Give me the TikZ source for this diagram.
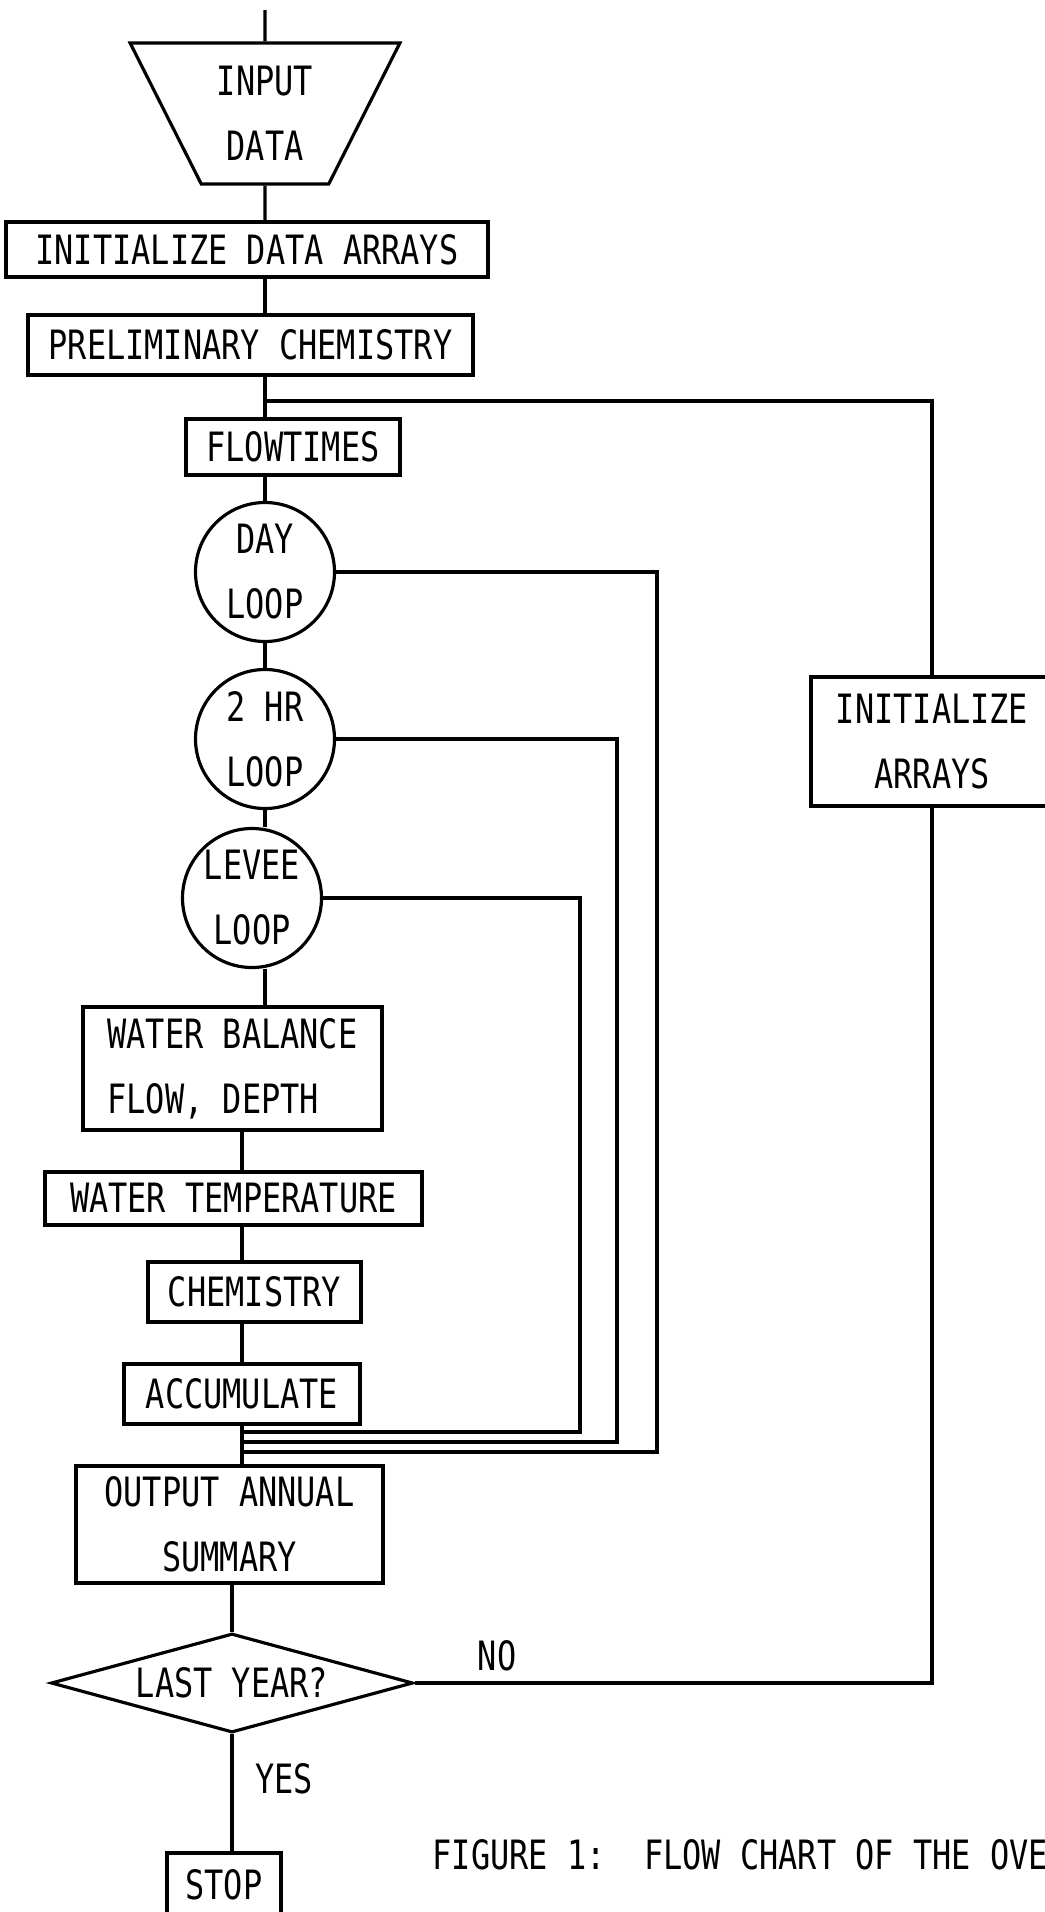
\documentclass[tikz,border=0pt]{standalone}
\usepackage{fontspec}
\usepackage{tikz}
\usetikzlibrary{shapes.geometric}
\newfontfamily\plotfont[FakeStretch=0.79]{DejaVu Sans Mono}

\begin{document}
\begin{tikzpicture}[
    x=0.1mm, y=-0.1mm,
    every node/.style={font=\plotfont\fontsize{11.5pt}{18.5pt}\selectfont, inner sep=0pt},
    procbox/.style={rectangle, draw, line width=0.9pt, align=center},
    loopnode/.style={circle, draw, line width=0.9pt, minimum size=13.9mm, align=center},
    ioshape/.style={
      trapezium, draw, line width=0.9pt, trapezium angle=60.4,
      shape border rotate=180, trapezium stretches=true, align=center
    },
    decision/.style={diamond, draw, line width=0.9pt, aspect=3.6, align=center},
    flow/.style={line width=0.9pt}
  ]
    \fill[white] (0,0) rectangle (1045,1912);
    \useasboundingbox (0,0) rectangle (1045,1912);

    \coordinate (intop) at (265,10);
    \node[ioshape, minimum width=27.1mm, minimum height=14.1mm] (input) at (265,113.5) {INPUT\\DATA};
    \node[procbox, minimum width=48.2mm, minimum height=5.5mm] (initdata) at (247,249.5) {INITIALIZE DATA ARRAYS};
    \node[procbox, minimum width=44.5mm, minimum height=6mm] (prelim) at (250.5,345) {PRELIMINARY CHEMISTRY};
    \coordinate (split) at (265,401);
    \node[procbox, minimum width=21.4mm, minimum height=5.6mm] (flowtimes) at (293,447) {FLOWTIMES};
    \node[loopnode] (day) at (265,572) {DAY\\LOOP};
    \node[loopnode] (twohr) at (265,739) {2 HR\\LOOP};
    \node[loopnode] (levee) at (252,898) {LEVEE\\LOOP};
    \node[procbox, align=left, minimum width=29.9mm, minimum height=12.3mm] (wbal) at (232.5,1068.5) {WATER BALANCE\\FLOW, DEPTH};
    \node[procbox, minimum width=37.7mm, minimum height=5.3mm] (wtemp) at (233.5,1198.5) {WATER TEMPERATURE};
    \node[procbox, minimum width=21.3mm, minimum height=6mm] (chem) at (254.5,1292) {CHEMISTRY};
    \node[procbox, minimum width=23.6mm, minimum height=6mm] (accum) at (242,1394) {ACCUMULATE};
    \node[procbox, minimum width=30.7mm, minimum height=11.7mm] (output) at (229.5,1524.5) {OUTPUT ANNUAL\\SUMMARY};
    \node[decision, minimum width=36.2mm, minimum height=9.9mm] (lastyear) at (232,1683) {LAST YEAR?};
    \node[procbox, minimum width=11.4mm, minimum height=6.4mm] (stop) at (224,1885) {STOP};
    \node[procbox, minimum width=24.2mm, minimum height=12.9mm] (initarr) at (932,741.5) {INITIALIZE\\ARRAYS};

    \node (nolbl) at (497,1656) {NO};
    \node (yeslbl) at (284,1779) {YES};
    \node[anchor=west] (caption) at (432,1855) {FIGURE 1:\ \ FLOW CHART OF THE OVE};

    \coordinate (dayback) at (657,1452);
    \coordinate (hrback) at (617,1442);
    \coordinate (leveeback) at (580,1432);

    \draw[flow] (intop) -- (input);
    \draw[flow] (input) -- (input |- initdata.north);
    \draw[flow] (initdata.south -| intop) -- (intop |- prelim.north);
    \draw[flow] (prelim.south -| split) -- (split |- flowtimes.north);
    \draw[flow] (day.north |- flowtimes.south) -- (day.north);
    \draw[flow] (day.south) -- (twohr.north);
    \draw[flow] (twohr.south) -- (twohr.south |- levee.north);
    \draw[flow] (levee.south -| twohr.south) -- (twohr.south |- wbal.north);
    \draw[flow] (wbal.south -| accum.north) -- (accum.north |- wtemp.north);
    \draw[flow] (wtemp.south -| accum.north) -- (accum.north |- chem.north);
    \draw[flow] (chem.south -| accum.north) -- (accum.north);
    \draw[flow] (accum.south) -- (accum.south |- output.north);
    \draw[flow] (output.south -| lastyear.north) -- (lastyear.north);
    \draw[flow] (lastyear.south) -- (lastyear.south |- stop.north);

    \draw[flow] (split) -| (initarr.north);
    \draw[flow] (initarr.south) |- (lastyear.east);

    \draw[flow] (day.east) -| (dayback) -- (dayback -| accum.south);
    \draw[flow] (twohr.east) -| (hrback) -- (hrback -| accum.south);
    \draw[flow] (levee.east) -| (leveeback) -- (leveeback -| accum.south);
  \end{tikzpicture}
\end{document}
